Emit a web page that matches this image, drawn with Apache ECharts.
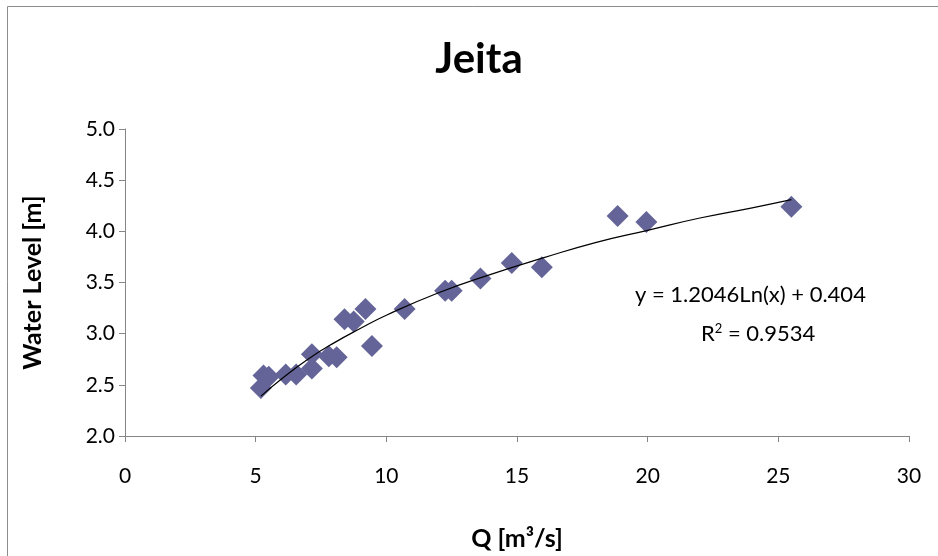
<!DOCTYPE html>
<html>
<head>
<meta charset="utf-8">
<title>Jeita</title>
<script src="https://cdn.jsdelivr.net/npm/echarts@6/dist/echarts.min.js"></script>
<style>
  html, body { margin: 0; padding: 0; background: #fff; }
  #chart { width: 938px; height: 556px; }
</style>
</head>
<body>
<div id="chart"></div>
<script>
// discharge Q [m3/s] and water level [m]
const flowQ = [5.2, 5.3, 5.5, 6.15, 6.55, 7.15, 7.15, 7.8, 8.1, 8.4, 8.75, 9.2, 9.45,
  10.7, 12.25, 12.5, 13.6, 14.8, 15.95, 18.85, 19.95, 25.5];
const waterLevel = [2.47, 2.59, 2.58, 2.60, 2.60, 2.80, 2.66, 2.78, 2.77, 3.14, 3.12, 3.24, 2.88,
  3.24, 3.42, 3.42, 3.54, 3.69, 3.65, 4.15, 4.09, 4.24];

// log trendline as drawn on the chart
const trendQ = [5.2, 6, 7, 8, 9, 10, 12, 14, 16, 18, 20, 22, 24, 25.5];
const trendLevel = [2.39, 2.56, 2.75, 2.91, 3.05, 3.18, 3.40, 3.58, 3.74, 3.89, 4.01, 4.13, 4.23, 4.31];

const xTicks = [0, 5, 10, 15, 20, 25, 30];
const yTicks = ['2.0', '2.5', '3.0', '3.5', '4.0', '4.5', '5.0'];

const chart = echarts.init(document.getElementById('chart'));
const axisGray = '#868686';
const font = 'Lato, "Open Sans", sans-serif';

const option = {
  backgroundColor: '#fff',
  animation: false,
  title: {
    text: 'Jeita',
    left: 474,
    top: 33,
    textAlign: 'center',
    textStyle: { fontFamily: font, fontSize: 42, fontWeight: 'bold', color: '#000' }
  },
  graphic: [
    {
      type: 'rect',
      shape: { x: 7.5, y: 6.5, width: 1000, height: 600 },
      style: { fill: 'none', stroke: '#8c8c8c', lineWidth: 1 }
    },
    {
      type: 'text',
      left: 635,
      top: 284,
      style: {
        text: 'y = 1.2046Ln(x) + 0.404',
        fontFamily: font, fontSize: 22, fill: '#000'
      }
    },
    {
      type: 'text',
      left: 701,
      top: 322,
      style: {
        text: 'R{sup|2} = 0.9534',
        fontFamily: font, fontSize: 22, fill: '#000',
        rich: { sup: { fontFamily: font, fontSize: 13, verticalAlign: 'top', padding: [0, 0, 11, 0] } }
      }
    }
  ],
  grid: { left: 125, right: 29, top: 129, bottom: 119, containLabel: false },
  xAxis: {
    type: 'value',
    min: xTicks[0],
    max: xTicks[xTicks.length - 1],
    interval: 5,
    name: 'Q [m³/s]',
    nameLocation: 'middle',
    nameGap: 90,
    nameTextStyle: { fontFamily: font, fontSize: 25, fontWeight: 'bold', color: '#000' },
    axisLine: { show: true, lineStyle: { color: axisGray } },
    axisTick: { show: true, length: 6, lineStyle: { color: axisGray } },
    axisLabel: { margin: 30, fontFamily: font, fontSize: 21, color: '#000' },
    splitLine: { show: false }
  },
  yAxis: {
    type: 'value',
    min: 2,
    max: 5,
    interval: 0.5,
    name: 'Water Level [m]',
    nameLocation: 'middle',
    nameGap: 80,
    nameTextStyle: { fontFamily: font, fontSize: 25, fontWeight: 'bold', color: '#000' },
    axisLine: { show: true, lineStyle: { color: axisGray } },
    axisTick: { show: true, length: 6, lineStyle: { color: axisGray } },
    axisLabel: {
      margin: 10, fontFamily: font, fontSize: 21, color: '#000',
      formatter: (v) => yTicks.find(t => Math.abs(parseFloat(t) - v) < 1e-6) || v.toFixed(1)
    },
    splitLine: { show: false }
  },
  series: [
    {
      type: 'scatter',
      symbol: 'diamond',
      symbolSize: 22,
      itemStyle: { color: '#646498', opacity: 1 },
      data: flowQ.map((q, i) => [q, waterLevel[i]]),
      z: 2
    },
    {
      type: 'line',
      smooth: true,
      showSymbol: false,
      lineStyle: { color: '#000', width: 1.2 },
      data: trendQ.map((q, i) => [q, trendLevel[i]]),
      z: 3
    }
  ]
};
chart.setOption(option);
</script>
</body>
</html>
